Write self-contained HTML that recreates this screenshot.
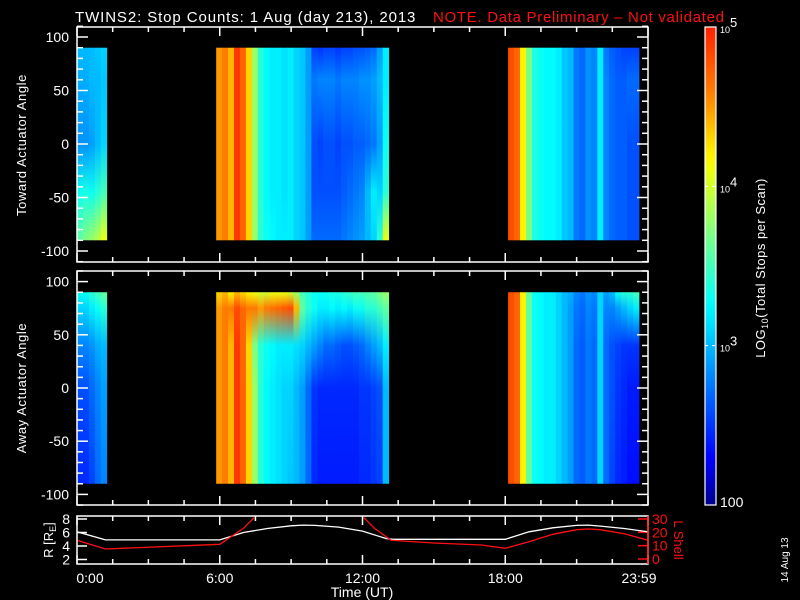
<!DOCTYPE html>
<html><head><meta charset="utf-8">
<style>
html,body{margin:0;padding:0;background:#000;}
svg{display:block;}
text{font-family:"Liberation Sans",sans-serif;fill:#fff;}
</style></head>
<body>
<svg id="chart" width="800" height="600" viewBox="0 0 800 600" xmlns="http://www.w3.org/2000/svg">
<rect x="0" y="0" width="800" height="600" fill="#000"/>
<defs id="defs"></defs>
<text x="75" y="22" font-size="15" letter-spacing="0.9">TWINS2: Stop Counts:  1 Aug (day 213), 2013</text>
<text x="433" y="22" font-size="15" letter-spacing="0.7" style="fill:#ff1010">NOTE. Data Preliminary – Not validated</text>
<g id="heat"></g>
<g id="axes"></g>
<text transform="translate(26,145) rotate(-90)" text-anchor="middle" font-size="13" letter-spacing="0.6">Toward Actuator Angle</text>
<text transform="translate(26,388) rotate(-90)" text-anchor="middle" font-size="13" letter-spacing="0.6">Away Actuator Angle</text>
<text transform="translate(53,540) rotate(-90)" text-anchor="middle" font-size="13">R [R<tspan font-size="9" dy="3">E</tspan><tspan dy="-3">]</tspan></text>
<text transform="translate(674,540) rotate(90)" text-anchor="middle" font-size="13" style="fill:#ff1010">L Shell</text>
<text x="362" y="597" text-anchor="middle" font-size="14">Time (UT)</text>
<text transform="translate(765,268) rotate(-90)" text-anchor="middle" font-size="13" letter-spacing="0.5">LOG<tspan font-size="9" dy="3">10</tspan><tspan dy="-3">(Total Stops per Scan)</tspan></text>
<text transform="translate(788,560) rotate(-90)" text-anchor="middle" font-size="10">14 Aug 13</text>
</svg>
<script>
// ---- data ----
const hours = [0,0.25,0.5,0.75,1.0,
 5.85,6.1,6.35,6.6,6.85,7.1,7.35,7.6,7.85,8.1,8.35,8.6,8.85,9.1,9.35,9.6,9.85,10.1,10.35,10.6,10.85,11.1,11.35,11.6,11.85,12.1,12.35,12.6,12.85,
 18.12,18.37,18.62,18.87,19.12,19.37,19.62,19.87,20.12,20.37,20.62,20.87,21.12,21.37,21.62,21.87,22.12,22.37,22.62,22.87,23.12,23.37];
const binWidth = 0.25;
// top panel (toward) log10 counts, rows at angles below
const towardAngles = [90,60,0,-45,-90];
const toward90 = [3.0,3.0,3.0,3.05,3.1,
 4.5,4.6,4.4,4.9,4.7,4.3,3.8,3.4,3.25,3.2,3.2,3.15,3.2,3.1,3.05,2.9,2.55,2.5,2.55,2.55,2.5,2.55,2.55,2.6,2.6,2.65,2.7,2.9,3.2,
 4.8,4.7,4.2,3.7,3.35,3.3,3.25,3.25,3.2,3.05,3.0,2.75,2.7,2.85,2.8,3.2,2.75,2.65,2.6,2.55,2.55,2.55];
const toward60 = [2.95,2.95,3.0,3.0,3.05,
 4.5,4.6,4.4,4.9,4.7,4.3,3.8,3.4,3.25,3.2,3.2,3.15,3.2,3.1,3.05,2.9,2.75,2.8,2.8,2.8,2.75,2.8,2.8,2.8,2.85,2.85,2.9,3.0,3.2,
 4.8,4.7,4.2,3.7,3.35,3.3,3.25,3.25,3.2,3.05,3.0,2.75,2.7,2.85,2.8,3.2,2.8,2.7,2.65,2.65,2.7,2.7];
const toward0 = [2.85,2.85,2.9,3.0,3.1,
 4.5,4.6,4.4,4.9,4.7,4.3,3.8,3.4,3.25,3.2,3.2,3.15,3.2,3.1,3.05,2.9,2.6,2.55,2.6,2.6,2.55,2.6,2.6,2.65,2.65,2.7,2.75,2.9,3.3,
 4.8,4.7,4.2,3.7,3.35,3.3,3.25,3.25,3.2,3.05,3.0,2.75,2.7,2.85,2.8,3.2,2.8,2.7,2.65,2.65,2.6,2.6];
const towardM45 = [3.3,3.35,3.3,3.4,3.5,
 4.5,4.6,4.4,4.9,4.7,4.3,3.8,3.4,3.25,3.2,3.2,3.15,3.2,3.1,3.05,2.9,2.6,2.6,2.6,2.6,2.6,2.65,2.7,2.75,2.8,3.0,3.2,3.1,3.4,
 4.8,4.7,4.2,3.7,3.35,3.3,3.25,3.25,3.2,3.05,3.0,2.75,2.7,2.85,2.8,3.2,2.8,2.7,2.65,2.65,2.6,2.6];
const towardM90 = [3.6,3.7,3.8,3.9,4.1,
 4.5,4.6,4.4,4.9,4.7,4.3,3.8,3.4,3.3,3.25,3.2,3.2,3.2,3.1,3.05,2.9,2.7,2.7,2.7,2.7,2.7,2.75,2.8,2.85,2.9,3.0,3.1,3.4,4.1,
 4.8,4.7,4.2,3.7,3.35,3.3,3.25,3.25,3.2,3.05,3.0,2.75,2.7,2.85,2.8,3.2,2.8,2.7,2.65,2.65,2.6,2.6];
// bottom panel (away)
const awayAngles = [90,75,40,0,-90];
const away90 = [3.3,3.3,3.4,3.5,3.6,
 4.3,4.4,4.2,4.4,4.3,4.2,4.1,4.0,4.0,4.1,4.1,4.1,4.0,3.8,3.5,3.4,3.3,3.3,3.3,3.35,3.35,3.4,3.45,3.5,3.5,3.55,3.6,3.7,3.8,
 4.8,4.7,4.2,3.6,3.3,3.25,3.2,3.2,3.1,3.0,2.95,2.8,2.75,2.85,2.8,3.1,2.9,3.0,3.3,3.4,3.4,3.5];
const away75 = [3.1,3.1,3.2,3.3,3.4,
 4.5,4.6,4.6,4.8,4.7,4.6,4.6,4.5,4.6,4.65,4.7,4.75,4.8,4.4,3.6,3.4,3.3,3.2,3.2,3.25,3.2,3.25,3.2,3.3,3.3,3.4,3.4,3.5,3.6,
 4.8,4.7,4.2,3.6,3.3,3.25,3.2,3.2,3.1,3.0,2.9,2.75,2.7,2.8,2.75,3.1,2.8,2.8,2.9,3.0,3.1,3.2];
const away40 = [2.8,2.8,2.85,2.95,3.0,
 4.5,4.6,4.4,4.9,4.7,4.3,3.7,3.4,3.3,3.25,3.2,3.2,3.2,3.15,3.1,3.0,2.9,2.8,2.7,2.7,2.65,2.6,2.6,2.65,2.7,2.8,2.9,3.0,3.2,
 4.8,4.7,4.2,3.6,3.3,3.25,3.2,3.2,3.1,3.0,2.9,2.7,2.65,2.75,2.7,3.1,2.7,2.6,2.55,2.5,2.5,2.5];
const away0 = [2.6,2.6,2.7,2.8,2.9,
 4.5,4.6,4.4,4.9,4.7,4.3,3.8,3.4,3.25,3.2,3.15,3.1,3.1,3.0,2.9,2.7,2.5,2.45,2.45,2.45,2.45,2.45,2.45,2.45,2.5,2.5,2.55,2.6,3.0,
 4.8,4.7,4.2,3.6,3.3,3.25,3.2,3.2,3.1,3.0,2.9,2.7,2.65,2.75,2.7,3.1,2.7,2.6,2.5,2.45,2.4,2.4];
const awayM90 = [2.45,2.45,2.55,2.7,2.8,
 4.5,4.6,4.4,4.9,4.7,4.3,3.8,3.4,3.25,3.2,3.15,3.1,3.05,3.0,2.9,2.7,2.45,2.4,2.4,2.4,2.4,2.4,2.4,2.4,2.45,2.45,2.5,2.55,3.0,
 4.8,4.7,4.2,3.6,3.3,3.25,3.2,3.2,3.1,3.0,2.9,2.7,2.65,2.75,2.7,3.1,2.7,2.55,2.45,2.4,2.35,2.35];
// orbit panel
const orbitHours = [0,1.2,6.0,7.0,8.0,9.0,9.5,10.0,11.0,12.0,13.0,13.3,18.0,19.0,20.0,21.0,21.5,22.0,23.0,24.0];
const radiusRE = [6.1,4.9,4.9,6.0,6.6,7.0,7.1,7.05,6.8,6.2,5.1,5.0,5.0,6.1,6.7,7.05,7.1,6.95,6.6,6.1];
const lshHours = [0,1.2,6.0,6.5,7.0,7.5,12.0,12.5,13.2,15.0,17.0,18.0,19.0,20.0,21.0,21.5,22.0,23.0,24.0];
const lShell = [14,7.5,11,17,23,32,32,23,14,12,10.5,8,13,18.5,22,22.5,22,19,14];
const angleTicks = [100,50,0,-50,-100];
const timeTickHours = [0,6,12,18,24];
const timeTickLabels = ["0:00","6:00","12:00","18:00","23:59"];
const rTicks = [2,4,6,8];
const lTicks = [0,10,20,30];
const cbarTicks = [3,4,5];
const cbarLabels = ["3","4","5"];

// ---- scales ----
const X0=77, X1=648;
const xT = h => X0 + h*(X1-X0)/24;
const yTop = a => 144 - a*1.07;
const yBot = a => 388 - a*1.064;
const yR = r => 519 + (8-r)*6.75;
const yL = l => 559 - l*1.333;
const CB_TOP=27, CB_BOT=505;
const yCB = v => CB_BOT - (v-2)/3*(CB_BOT-CB_TOP);
const stops=[[0,[0,0,140]],[0.1,[0,0,255]],[0.42,[0,255,255]],[0.57,[128,255,128]],[0.72,[255,255,0]],[0.86,[255,128,0]],[1,[255,32,0]]];
function cmap(v){
  let f=Math.max(0,Math.min(1,(v-2)/3));
  for(let i=1;i<stops.length;i++){
    if(f<=stops[i][0]){
      const a=stops[i-1],b=stops[i],t=(f-a[0])/(b[0]-a[0]);
      const c=a[1].map((x,k)=>Math.round(x+(b[1][k]-x)*t));
      return `rgb(${c[0]},${c[1]},${c[2]})`;
    }
  }
  return 'rgb(255,32,0)';
}
const NS='http://www.w3.org/2000/svg';
const svg=document.getElementById('chart');
const defs=document.getElementById('defs');
const heat=document.getElementById('heat');
const axes=document.getElementById('axes');
function el(tag,attrs,parent){const e=document.createElementNS(NS,tag);for(const k in attrs)e.setAttribute(k,attrs[k]);(parent||svg).appendChild(e);return e;}

// ---- spectrogram columns ----
function drawPanel(yf, angles, rows, prefix){
  hours.forEach((h,i)=>{
    const gid=prefix+'g'+i;
    const g=el('linearGradient',{id:gid,x1:0,y1:0,x2:0,y2:1},defs);
    angles.forEach((a,k)=>{
      el('stop',{offset:((90-a)/180).toFixed(3),'stop-color':cmap(rows[k][i])},g);
    });
    const x=xT(h), w=xT(h+binWidth)-x;
    const r=el('rect',{x:x.toFixed(2),y:yf(90).toFixed(2),width:(w+0.4).toFixed(2),height:(yf(-90)-yf(90)).toFixed(2),fill:`url(#${gid})`},heat);
    
    
  });
}
drawPanel(yTop,towardAngles,[toward90,toward60,toward0,towardM45,towardM90],'toward');
drawPanel(yBot,awayAngles,[away90,away75,away40,away0,awayM90],'away');

// ---- frames & ticks ----
function frame(y0,y1,name){
  const r=el('rect',{x:X0,y:y0,width:X1-X0,height:y1-y0,fill:'none',stroke:'#fff','stroke-width':1.5},axes);
  
  
}
function line(x1,y1,x2,y2,col,w){return el('line',{x1,y1,x2,y2,stroke:col||'#fff','stroke-width':w||1.5},axes);}
function text(x,y,s,anchor,size,col){const t=el('text',{x,y,'text-anchor':anchor||'middle','font-size':size||14},axes);if(col)t.setAttribute('style','fill:'+col);t.textContent=s;return t;}
function timeTicks(y0,y1){
  for(let h=0;h<=24.01;h+=1.5){
    const major=Math.abs(h/6-Math.round(h/6))<1e-6;
    const L=major?9:5;const x=xT(h);
    line(x,y0,x,y0+L);line(x,y1,x,y1-L);
  }
}
function angleAxis(yf,prefix){
  for(let a=-110;a<=110;a+=10){
    const major=a%50===0;const L=major?11:6;const y=yf(a);
    line(X0,y,X0+L,y);line(X1,y,X1-L,y);
  }
  angleTicks.forEach(a=>{
    const t=text(69,yf(a)+5,String(a),'end',14);
    
    
  });
}
frame(27,262,'top-panel-frame');angleAxis(yTop,'toward');timeTicks(27,262);
frame(271,505,'bottom-panel-frame');angleAxis(yBot,'away');timeTicks(271,505);
timeTicks(516,564);
rTicks.forEach(r=>{line(X0,yR(r),X0+10,yR(r));const t=text(70,yR(r)+5,String(r),'end',14);
  });
lTicks.forEach(l=>{line(X1,yL(l),X1-10,yL(l),'#ff1010');const t=text(652,yL(l)+5,String(l),'start',14,'#ff1010');
  });
timeTickHours.forEach((h,i)=>{const t=text(xT(h)+(i==0?13:i==4?-9:0),583,timeTickLabels[i],'middle',14);
  });

// orbit curves (clipped)
const cp=el('clipPath',{id:'orbclip'},defs);el('rect',{x:X0,y:517.5,width:X1-X0,height:46},cp);
const rp=el('polyline',{points:orbitHours.map((h,i)=>xT(h).toFixed(1)+','+yR(radiusRE[i]).toFixed(1)).join(' '),fill:'none',stroke:'#fff','stroke-width':1.3,'clip-path':'url(#orbclip)'},svg);


const lp=el('polyline',{points:lshHours.map((h,i)=>xT(h).toFixed(1)+','+yL(lShell[i]).toFixed(1)).join(' '),fill:'none',stroke:'#ff1010','stroke-width':1.3,'clip-path':'url(#orbclip)'},svg);


// orbit frame on top
const of=el('rect',{x:X0,y:516,width:X1-X0,height:48,fill:'none',stroke:'#fff','stroke-width':1.5},svg);


const ra=el('line',{x1:X1,y1:516,x2:X1,y2:564,stroke:'#ff1010','stroke-width':1.5},svg);



// ---- colorbar ----
const cg=el('linearGradient',{id:'cbg',x1:0,y1:1,x2:0,y2:0},defs);
for(let i=0;i<=30;i++){el('stop',{offset:(i/30).toFixed(3),'stop-color':cmap(2+3*i/30)},cg);}
const cb=el('rect',{x:705,y:CB_TOP,width:11,height:CB_BOT-CB_TOP,fill:'url(#cbg)',stroke:'#fff','stroke-width':1.2},svg);


cbarTicks.forEach((v,i)=>{
  if(v<5){el('line',{x1:705,y1:yCB(v),x2:716,y2:yCB(v),stroke:'#fff','stroke-width':1,'stroke-dasharray':'3,4'},svg);}
  const t=el('text',{x:720,y:yCB(v)+6,'font-size':9},svg);
  
  
  t.textContent='10';
  const s=el('tspan',{dy:-6,'font-size':13},t);s.textContent=cbarLabels[i];
});
const t100=el('text',{x:720,y:yCB(2)+2,'font-size':14},svg);


t100.textContent='100';
</script>
</body></html>
